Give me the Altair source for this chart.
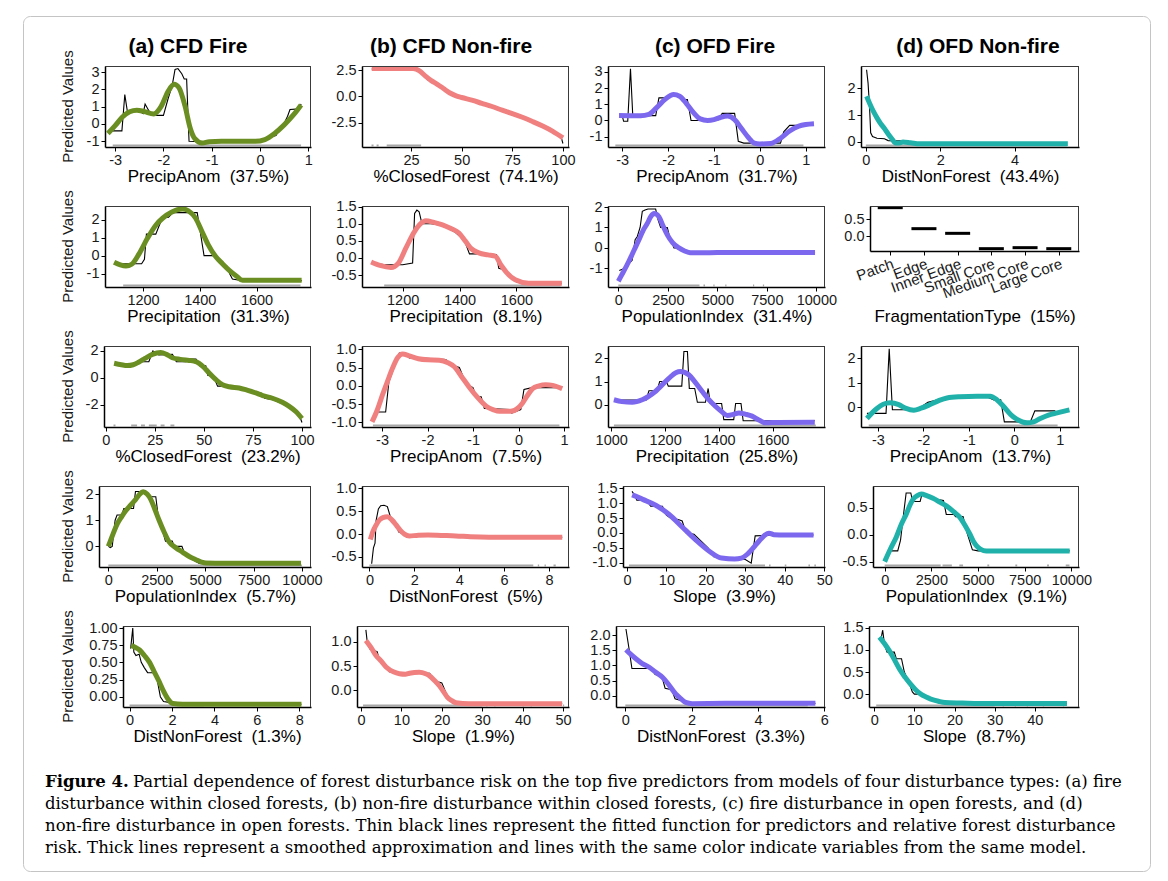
import altair as alt
import pandas as pd

FONT = "Liberation Sans"
SERIF = "DejaVu Serif"
GREEN = "#6B8E23"
SALMON = "#F08080"
PURPLE = "#7B68EE"
TEAL = "#20B2AA"

# ---------------- data ----------------
# Row 1
P11_fit = [(-3.12,-0.4),(-2.86,-0.4),(-2.8,1.7),(-2.74,0.6),(-2.65,0.75),(-2.5,0.75),(-2.42,0.6),(-2.38,1.15),(-2.32,0.85),(-2.25,0.5),(-2.0,0.5),(-1.9,1.5),(-1.82,2.2),(-1.76,3.15),(-1.7,3.2),(-1.62,2.9),(-1.57,2.6),(-1.52,2.6),(-1.47,-1.0),(-1.2,-1.02),(-0.5,-1.0),(0.1,-1.0),(0.22,-0.75),(0.33,-0.67),(0.42,-0.2),(0.47,-0.13),(0.57,0.45),(0.62,0.84),(0.81,0.87),(0.85,1.15)]
P11_smooth = [(-3.15,-0.55),(-3.0,-0.1),(-2.85,0.4),(-2.7,0.7),(-2.55,0.8),(-2.4,0.72),(-2.2,0.58),(-2.05,1.0),(-1.9,1.9),(-1.78,2.3),(-1.68,2.1),(-1.55,1.0),(-1.45,-0.2),(-1.35,-0.85),(-1.2,-1.1),(-1.05,-1.02),(-0.8,-1.0),(-0.4,-1.0),(-0.1,-1.0),(0.1,-0.9),(0.3,-0.55),(0.5,-0.05),(0.7,0.55),(0.85,1.1)]
P11_rug = [(-3.05,0.85)]
P11_xdom = [-3.21, 1.055]; P11_ydom = [-1.33, 3.35]
P11_xticks = [-3,-2,-1,0,1]; P11_yticks = [-1,0,1,2,3]

P12_fit = [(5.6,2.6),(27,2.6),(30,2.3),(33,1.6),(36,1.3),(40,0.85),(42,0.5),(45,0.2),(50,-0.1),(58,-0.5),(62,-0.7),(70,-1.25),(77,-1.7),(80,-2.0),(88,-2.6),(95,-3.35),(99,-3.75),(100,-4.45)]
P12_smooth = [(5.6,2.65),(15,2.65),(26,2.64),(29,2.45),(32,1.95),(35,1.5),(38,1.15),(41,0.75),(44,0.35),(47,0.08),(50,-0.1),(55,-0.35),(60,-0.65),(65,-0.95),(70,-1.3),(75,-1.62),(80,-1.97),(85,-2.37),(90,-2.8),(95,-3.3),(100,-3.92)]
P12_rug = [(5.5,6.5),(8,9),(13,30)]
P12_xdom = [0.8, 103]; P12_ydom = [-4.78, 2.88]
P12_xticks = [25,50,75,100]; P12_yticks = [-2.5,0,2.5]

P13_fit = [(-3.07,0.3),(-3.0,0.3),(-2.97,-0.05),(-2.88,-0.05),(-2.82,3.2),(-2.77,0.3),(-2.27,0.3),(-2.2,1.4),(-2.0,1.4),(-1.95,1.6),(-1.75,1.55),(-1.68,1.3),(-1.58,1.3),(-1.5,0.0),(-0.92,0.0),(-0.82,0.44),(-0.55,0.44),(-0.47,-1.29),(-0.35,-1.4),(0.45,-1.4),(0.52,-0.7),(0.65,-0.3),(0.95,-0.3),(1.0,-0.25)]
P13_smooth = [(-3.07,0.31),(-2.8,0.3),(-2.6,0.3),(-2.42,0.38),(-2.25,0.8),(-2.05,1.35),(-1.88,1.6),(-1.75,1.5),(-1.6,1.05),(-1.45,0.5),(-1.3,0.1),(-1.14,0.0),(-1.0,0.05),(-0.85,0.2),(-0.7,0.27),(-0.55,0.05),(-0.4,-0.5),(-0.25,-1.05),(-0.12,-1.4),(0.0,-1.45),(0.24,-1.42),(0.45,-1.1),(0.65,-0.65),(0.85,-0.35),(1.0,-0.25),(1.18,-0.2)]
P13_rug = [(-3.15,0.95)]
P13_xdom = [-3.31, 1.42]; P13_ydom = [-1.64, 3.37]
P13_xticks = [-3,-2,-1,0,1]; P13_yticks = [-1,0,1,2,3]

P14_fit = [(0.02,2.7),(0.06,2.2),(0.1,1.3),(0.13,0.34),(0.18,0.2),(0.3,0.14),(0.5,0.12),(0.6,0.05),(1.0,0.04),(1.2,-0.05),(1.5,-0.07),(5.4,-0.07)]
P14_smooth = [(0.02,1.71),(0.1,1.45),(0.2,1.15),(0.3,0.9),(0.4,0.68),(0.5,0.5),(0.6,0.3),(0.7,0.12),(0.8,-0.04),(0.9,-0.04),(1.0,0.0),(1.2,-0.03),(1.45,-0.07),(2.0,-0.07),(3.0,-0.07),(4.0,-0.07),(5.43,-0.07)]
P14_rug = [(0.0,5.4)]
P14_xdom = [-0.13, 5.73]; P14_ydom = [-0.19, 2.84]
P14_xticks = [0,2,4]; P14_yticks = [0,1,2]

# Row 2
P21_fit = [(1115,-0.45),(1195,-0.45),(1205,-0.2),(1212,1.2),(1245,1.2),(1255,1.6),(1268,2.1),(1290,2.15),(1305,2.4),(1391,2.4),(1400,1.5),(1415,0.0),(1456,0.0),(1470,-0.3),(1482,-0.5),(1497,-0.6),(1505,-1.0),(1515,-1.3),(1550,-1.4),(1760,-1.4)]
P21_smooth = [(1098,-0.37),(1120,-0.52),(1140,-0.58),(1160,-0.48),(1186,0.1),(1215,0.95),(1245,1.7),(1270,2.1),(1300,2.42),(1339,2.6),(1360,2.5),(1385,2.1),(1409,1.3),(1430,0.6),(1456,-0.05),(1480,-0.45),(1504,-0.82),(1530,-1.15),(1551,-1.38),(1580,-1.38),(1650,-1.38),(1759,-1.38)]
P21_rug = [(1130,1755)]
P21_xdom = [1066, 1792]; P21_ydom = [-1.75, 2.77]
P21_xticks = [1200,1400,1600]; P21_yticks = [-1,0,1,2]

P22_fit = [(1089,-0.15),(1140,-0.2),(1200,-0.2),(1235,-0.15),(1242,1.3),(1250,1.4),(1258,1.35),(1268,1.0),(1300,1.0),(1340,0.95),(1385,0.75),(1405,0.6),(1420,0.45),(1435,0.12),(1470,0.12),(1530,0.1),(1538,-0.3),(1560,-0.35),(1600,-0.7),(1760,-0.74)]
P22_smooth = [(1089,-0.12),(1120,-0.22),(1159,-0.28),(1185,-0.15),(1212,0.3),(1240,0.75),(1260,0.98),(1282,1.09),(1310,1.04),(1340,0.97),(1370,0.86),(1398,0.73),(1420,0.5),(1440,0.28),(1468,0.15),(1500,0.09),(1526,0.05),(1545,-0.2),(1565,-0.42),(1596,-0.64),(1643,-0.74),(1760,-0.74)]
P22_rug = [(1135,1755)]
P22_xdom = [1057, 1785]; P22_ydom = [-0.85, 1.52]
P22_xticks = [1200,1400,1600]; P22_yticks = [-0.5,0,0.5,1.0,1.5]

P23_fit = [(50,-1.1),(300,-1.0),(450,-0.85),(700,-0.6),(850,0.4),(960,0.56),(1100,1.0),(1212,1.79),(1350,1.85),(1500,1.9),(1886,1.9),(2000,1.4),(2138,1.0),(2475,1.0),(2600,0.5),(2811,0.0),(3064,0.0),(3300,-0.18),(4000,-0.22),(9933,-0.22)]
P23_smooth = [(0,-1.63),(270,-1.15),(540,-0.64),(800,-0.1),(1044,0.4),(1250,0.85),(1465,1.2),(1650,1.55),(1801,1.68),(1930,1.65),(2054,1.52),(2250,1.1),(2475,0.64),(2750,0.25),(3064,0.0),(3350,-0.15),(3653,-0.24),(4242,-0.24),(5000,-0.22),(9933,-0.22)]
P23_rug = [(0,4100),(4300,4380),(4800,4860),(5400,5460),(6800,6860),(7300,7360)]
P23_xdom = [-520, 10436]; P23_ydom = [-1.91, 2.05]
P23_xticks = [0,2500,5000,7500,10000]; P23_yticks = [-1,0,1,2]

P24_cats = ["Patch", "Edge", "Inner Edge", "Small Core", "Medium Core", "Large Core"]
P24_vals = [0.85, 0.22, 0.08, -0.38, -0.35, -0.38]
P24_ydom = [-0.45, 0.9]; P24_yticks = [0.0, 0.5]

# Row 3
P31_fit = [(4.3,1.0),(14,1.0),(16,1.2),(22,1.2),(24,2.0),(26,1.9),(27,1.7),(34,1.75),(36,1.2),(41,1.2),(42,1.4),(46,1.4),(48,0.9),(51,0.9),(52,0.2),(55,0.1),(57,-0.6),(64,-0.6),(66,-0.8),(71,-0.8),(74,-1.0),(79,-1.1),(81,-1.5),(85,-1.6),(90,-1.9),(95,-2.3),(98,-2.5),(100,-3.3)]
P31_smooth = [(4.3,1.09),(8,0.98),(11,0.92),(14,0.98),(17,1.19),(20,1.45),(23.8,1.75),(28,1.88),(31,1.75),(34,1.5),(38,1.38),(42.5,1.3),(45,1.25),(47.6,1.09),(50,0.8),(52.7,0.37),(56,-0.1),(59.5,-0.5),(63,-0.65),(68,-0.74),(72,-0.9),(76.5,-1.11),(80,-1.3),(85,-1.5),(90,-1.8),(93.5,-2.1),(97,-2.5),(100,-3.0)]
P31_rug = [(4,5),(13,16),(18,20),(22,26),(28,30),(33,35)]
P31_xdom = [-0.85, 104.6]; P31_ydom = [-3.63, 2.37]
P31_xticks = [0,25,50,75,100]; P31_yticks = [-2,0,2]

P32_fit = [(-3.15,-0.72),(-2.92,-0.72),(-2.85,0.1),(-2.62,0.9),(-2.48,0.9),(-2.4,0.76),(-2.1,0.76),(-1.6,0.72),(-1.45,0.56),(-1.3,0.5),(-1.15,0.05),(-1.0,-0.05),(-0.93,-0.3),(-0.82,-0.3),(-0.75,-0.62),(-0.2,-0.65),(-0.15,-0.75),(0.05,-0.65),(0.12,-0.1),(0.3,-0.05),(0.85,-0.05)]
P32_smooth = [(-3.22,-0.99),(-3.1,-0.65),(-2.99,-0.25),(-2.88,0.12),(-2.77,0.48),(-2.65,0.78),(-2.55,0.87),(-2.4,0.82),(-2.2,0.74),(-2.0,0.71),(-1.74,0.7),(-1.55,0.63),(-1.41,0.52),(-1.25,0.25),(-1.07,-0.06),(-0.9,-0.32),(-0.71,-0.56),(-0.55,-0.66),(-0.42,-0.7),(-0.17,-0.7),(0.0,-0.6),(0.09,-0.47),(0.2,-0.26),(0.31,-0.08),(0.45,0.0),(0.6,0.03),(0.75,0.01),(0.96,-0.08)]
P32_rug = [(-3.2,0.9)]
P32_xdom = [-3.44, 1.11]; P32_ydom = [-1.13, 1.09]
P32_xticks = [-3,-2,-1,0,1]; P32_yticks = [-1.0,-0.5,0,0.5,1.0]

P33_fit = [(1010,0.2),(1130,0.2),(1140,0.6),(1170,0.6),(1180,1.0),(1205,1.0),(1212,0.8),(1262,0.8),(1270,2.3),(1283,2.3),(1290,0.7),(1310,0.7),(1320,0.1),(1350,0.1),(1360,0.7),(1368,0.05),(1410,0.05),(1418,-0.65),(1455,-0.65),(1462,0.05),(1482,0.05),(1490,-0.7),(1756,-0.7)]
P33_smooth = [(1010,0.21),(1040,0.13),(1078,0.1),(1115,0.21),(1164,0.57),(1214,1.14),(1240,1.38),(1257,1.43),(1288,1.29),(1310,1.0),(1338,0.57),(1360,0.25),(1387,-0.07),(1410,-0.3),(1431,-0.47),(1455,-0.42),(1474,-0.36),(1500,-0.42),(1523,-0.5),(1550,-0.68),(1573,-0.79),(1620,-0.77),(1756,-0.76)]
P33_rug = [(1010,1760)]
P33_xdom = [988, 1794]; P33_ydom = [-0.97, 2.54]
P33_xticks = [1000,1200,1400,1600]; P33_yticks = [0,1,2]

P34_fit = [(-3.24,-0.25),(-2.82,-0.25),(-2.75,2.4),(-2.68,-0.1),(-2.3,-0.1),(-2.1,-0.05),(-1.9,0.2),(-1.6,0.35),(-0.6,0.42),(-0.45,0.3),(-0.3,0.3),(-0.22,-0.6),(0.35,-0.6),(0.45,-0.15),(0.7,-0.15),(0.9,-0.15)]
P34_smooth = [(-3.24,-0.46),(-3.12,-0.22),(-3.02,-0.05),(-2.88,0.12),(-2.73,0.18),(-2.54,0.11),(-2.38,-0.05),(-2.21,-0.12),(-2.05,-0.04),(-1.85,0.11),(-1.65,0.28),(-1.48,0.38),(-1.2,0.43),(-0.82,0.45),(-0.53,0.45),(-0.38,0.3),(-0.24,0.04),(-0.08,-0.3),(0.06,-0.5),(0.28,-0.64),(0.42,-0.6),(0.57,-0.46),(0.75,-0.32),(0.94,-0.23),(1.21,-0.11)]
P34_rug = [(-3.2,0.95)]
P34_xdom = [-3.37, 1.42]; P34_ydom = [-0.81, 2.51]
P34_xticks = [-3,-2,-1,0,1]; P34_yticks = [0,1,2]

# Row 4
P41_fit = [(0,0.0),(100,-0.05),(200,0.0),(350,1.0),(450,1.2),(700,1.2),(800,1.45),(1300,1.45),(1400,2.1),(1950,2.1),(2100,1.9),(2450,1.9),(2600,1.0),(2800,0.6),(2950,0.2),(3300,0.2),(3400,0.0),(3800,0.0),(3950,-0.3),(4200,-0.45),(4700,-0.65),(9948,-0.65)]
P41_smooth = [(0,0.0),(230,0.45),(466,0.87),(700,1.15),(897,1.36),(1150,1.58),(1414,1.8),(1600,1.98),(1793,2.09),(2000,2.0),(2190,1.8),(2400,1.42),(2621,1.0),(2880,0.55),(3138,0.17),(3480,-0.05),(3828,-0.22),(4200,-0.4),(4517,-0.51),(4800,-0.6),(5034,-0.64),(6000,-0.65),(9948,-0.65)]
P41_rug = [(0,10000)]
P41_xdom = [-483, 10466]; P41_ydom = [-0.79, 2.31]
P41_xticks = [0,2500,5000,7500,10000]; P41_yticks = [0,1,2]

P42_fit = [(0.1,-0.65),(0.18,-0.3),(0.25,-0.2),(0.3,0.3),(0.4,0.55),(0.5,0.62),(0.65,0.63),(0.8,0.6),(0.92,0.4),(1.05,0.3),(1.2,0.22),(1.3,0.05),(1.5,0.0),(1.8,-0.03),(2.5,-0.02),(4.0,-0.05),(8.59,-0.07)]
P42_smooth = [(0.04,-0.12),(0.15,0.05),(0.3,0.2),(0.45,0.31),(0.6,0.36),(0.81,0.38),(1.0,0.31),(1.19,0.2),(1.38,0.08),(1.56,0.0),(1.78,-0.04),(2.1,-0.03),(2.6,-0.02),(3.2,-0.03),(3.85,-0.04),(4.5,-0.06),(5.33,-0.07),(8.59,-0.07)]
P42_rug = [(0.0,7.3),(7.5,7.56),(7.8,7.86),(8.2,8.3)]
P42_xdom = [-0.33, 8.89]; P42_ydom = [-0.72, 1.05]
P42_xticks = [0,2,4,6,8]; P42_yticks = [-0.5,0,0.5,1.0]

P43_fit = [(1.3,1.4),(2,1.25),(2.5,1.1),(5,1.1),(6,0.9),(9,0.9),(10,0.6),(11,0.5),(13,0.45),(14,0.4),(15,0.0),(17,-0.05),(19,-0.3),(20.5,-0.5),(22,-0.8),(28,-0.85),(30,-0.9),(31.5,-1.02),(32.5,-0.1),(37,-0.08),(47.3,-0.07)]
P43_smooth = [(1.33,1.28),(4,1.13),(7.3,0.93),(10.7,0.62),(14,0.2),(17.3,-0.22),(20.7,-0.6),(24,-0.85),(27.3,-0.88),(29,-0.85),(30.5,-0.72),(31.5,-0.58),(33,-0.35),(34,-0.2),(35,-0.07),(36,-0.01),(37.3,-0.06),(40,-0.07),(47.3,-0.07)]
P43_rug = [(0.5,35),(36,36.4),(40,40.4),(46,46.4),(47.5,47.9)]
P43_xdom = [-1.0, 50.2]; P43_ydom = [-1.15, 1.58]
P43_xticks = [0,10,20,30,40,50]; P43_yticks = [-1.0,-0.5,0,0.5,1.0,1.5]

P44_fit = [(200,-0.3),(700,-0.3),(850,-0.1),(1000,0.35),(1150,0.78),(1400,0.78),(1500,0.62),(1900,0.62),(2000,0.76),(2400,0.72),(2800,0.66),(3150,0.64),(3300,0.38),(3700,0.38),(3800,0.34),(4200,0.34),(4400,0.05),(4700,-0.28),(5000,-0.3),(9911,-0.3)]
P44_smooth = [(0,-0.5),(300,-0.27),(625,-0.04),(900,0.2),(1161,0.39),(1350,0.55),(1518,0.66),(1750,0.73),(1964,0.76),(2250,0.73),(2589,0.68),(3000,0.6),(3304,0.54),(3700,0.43),(4018,0.33),(4300,0.18),(4554,0.02),(4750,-0.12),(4911,-0.2),(5150,-0.27),(5446,-0.3),(6500,-0.3),(9911,-0.3)]
P44_rug = [(0,3000),(3100,3600),(4000,4200),(5500,5600),(7000,7100),(8700,8800),(9700,9900)]
P44_xdom = [-625, 10410]; P44_ydom = [-0.6, 0.91]
P44_xticks = [0,2500,5000,7500,10000]; P44_yticks = [-0.5,0,0.5]

# Row 5
P51_fit = [(0.05,0.7),(0.1,0.85),(0.15,1.0),(0.2,0.65),(0.3,0.6),(0.45,0.62),(0.55,0.5),(0.7,0.42),(0.85,0.35),(1.15,0.35),(1.3,0.25),(1.45,0.0),(1.6,-0.07),(2.0,-0.09),(2.5,-0.11),(8.1,-0.11)]
P51_smooth = [(0.08,0.75),(0.25,0.72),(0.47,0.68),(0.7,0.6),(0.94,0.5),(1.15,0.37),(1.41,0.21),(1.6,0.08),(1.8,-0.03),(2.04,-0.1),(2.5,-0.11),(4.0,-0.11),(8.1,-0.11)]
P51_rug = [(0.0,3.5)]
P51_xdom = [-0.31, 8.55]; P51_ydom = [-0.15, 1.03]
P51_xticks = [0,2,4,6,8]; P51_yticks = [0,0.25,0.5,0.75,1.0]

P52_fit = [(1.2,1.25),(1.6,0.95),(2.2,0.85),(4,0.8),(4.6,0.6),(6,0.55),(7,0.38),(10,0.35),(17,0.35),(18,0.2),(20,0.15),(21,-0.05),(22,-0.2),(23.5,-0.28),(49.8,-0.28)]
P52_smooth = [(1.2,1.03),(2.5,0.88),(3.7,0.72),(5,0.6),(6.2,0.48),(8,0.38),(9.5,0.34),(11,0.33),(12,0.35),(14.4,0.37),(16,0.34),(16.9,0.3),(18.2,0.2),(19.4,0.09),(20.5,-0.04),(21.4,-0.15),(22.5,-0.22),(23.5,-0.26),(26.8,-0.28),(35,-0.28),(49.8,-0.28)]
P52_rug = [(0.5,30),(31,31.3),(33,33.3),(40,40.3),(42,42.3),(50,50.3)]
P52_xdom = [-1.0, 51.5]; P52_ydom = [-0.35, 1.33]
P52_xticks = [0,10,20,30,40,50]; P52_yticks = [0,0.5,1.0]

P53_fit = [(0.02,2.2),(0.12,1.5),(0.2,0.9),(0.8,0.9),(0.9,0.7),(1.1,0.65),(1.2,0.25),(1.4,0.2),(1.5,-0.1),(1.8,-0.2),(2.0,-0.25),(5.73,-0.25)]
P53_smooth = [(0.02,1.52),(0.15,1.38),(0.32,1.22),(0.5,1.07),(0.72,0.94),(0.9,0.79),(1.12,0.61),(1.3,0.38),(1.52,0.06),(1.68,-0.1),(1.82,-0.22),(2.02,-0.26),(3.0,-0.25),(5.73,-0.25)]
P53_rug = [(0.0,5.5)]
P53_xdom = [-0.28, 6.02]; P53_ydom = [-0.37, 2.3]
P53_xticks = [0,2,4,6]; P53_yticks = [0,0.5,1.0,1.5,2.0]

P54_fit = [(1.3,1.25),(1.8,1.3),(2.1,1.45),(2.6,1.1),(3.2,0.95),(5,0.95),(5.5,0.8),(6.8,0.8),(7.5,0.5),(8.5,0.3),(9.5,0.05),(10,0.0),(12,0.0),(13,-0.05),(14,-0.1),(16,-0.18),(20,-0.2),(48,-0.21)]
P54_smooth = [(1.3,1.29),(2.5,1.15),(3.9,0.96),(5.2,0.75),(6.4,0.55),(7.7,0.38),(9,0.23),(10.3,0.1),(11.6,0.0),(12.8,-0.06),(14.1,-0.11),(16,-0.16),(17.6,-0.19),(21.9,-0.2),(26.1,-0.21),(35,-0.21),(48,-0.21)]
P54_rug = [(0.5,30),(32,32.3),(35,35.3),(38,38.3),(42,42.3),(47,47.3)]
P54_xdom = [-1.3, 51]; P54_ydom = [-0.29, 1.54]
P54_xticks = [0,10,20,30,40]; P54_yticks = [0,0.5,1.0,1.5]

COL_TITLES = ["(a) CFD Fire", "(b) CFD Non-fire", "(c) OFD Fire", "(d) OFD Non-fire"]
COL_COLORS = [GREEN, SALMON, PURPLE, TEAL]
CAPTION_BOLD = "Figure 4."
CAPTION_LINES = [
    "Partial dependence of forest disturbance risk on the top five predictors from models of four disturbance types: (a) fire",
    "disturbance within closed forests, (b) non-fire disturbance within closed forests, (c) fire disturbance in open forests, and (d)",
    "non-fire disturbance in open forests. Thin black lines represent the fitted function for predictors and relative forest disturbance",
    "risk. Thick lines represent a smoothed approximation and lines with the same color indicate variables from the same model.",
]

# ---------------- layout (pixels, page coordinates) ----------------
COL_X = [98, 356, 607, 860]            # left edge of each column cell
COL_RIGHT = [310, 568, 824, 1078]      # right edge of the plot boxes
PLOT_LEFT = [[104, 361, 607, 860],     # left edge of each plot box
             [104, 361, 607, 869],
             [103, 361, 607, 860],
             [98, 361, 622, 872],
             [122, 356, 615, 868]]
ROW_TOP0 = 65
ROW_SPACING = 59
PLOT_H = 81
FRAG_H = 45
TITLE_CENTER = [187, 450, 714, 977]
BOX = (22, 15, 1150, 871)              # outer figure box: left, top, right, bottom
LEFT_PAD = BOX[0]
TOP_PAD = BOX[1]
CAP_FS = 16.5
CAP_X = 44 - COL_X[0]
CAP_Y0 = 161
CAP_DY = 22
CAP_BOLD_W = 88
MINUS = "replace(datum.label, '\u2212', '-')"
BORDER = "#3a3a3a"


def cell_width(c):
    return (COL_X[c + 1] if c < 3 else COL_RIGHT[3]) - COL_X[c]


def txt(s, **kw):
    return alt.Chart(pd.DataFrame({"t": [s]})).mark_text(**kw)


def frame(d, r_, h):
    one = pd.DataFrame({"k": [0]})
    top = alt.Chart(one).mark_rule(color=BORDER, strokeWidth=1).encode(
        x=alt.value(d), x2=alt.value(r_), y=alt.value(0.5))
    right = alt.Chart(one).mark_rule(color=BORDER, strokeWidth=1).encode(
        x=alt.value(r_ - 0.5), y=alt.value(0), y2=alt.value(h))
    return [top, right]


def decorations(r, c):
    layers = []
    if r == 0 and c == 0:
        layers.append(alt.Chart(pd.DataFrame({"k": [0]})).mark_rect(
            fillOpacity=0, stroke="#c4c4c4", strokeWidth=1, cornerRadius=7).encode(
            x=alt.value(BOX[0] - COL_X[0] + 0.5), x2=alt.value(BOX[2] - COL_X[0] - 0.5),
            y=alt.value(BOX[1] - ROW_TOP0 + 0.5), y2=alt.value(BOX[3] - ROW_TOP0 - 0.5)))
    if r == 0:
        layers.append(txt(COL_TITLES[c], font=FONT, fontSize=21, fontWeight="bold", align="center",
                          baseline="alphabetic", color="black").encode(
            text="t:N", x=alt.value(TITLE_CENTER[c] - COL_X[c]), y=alt.value(-13)))
    if c == 0:
        layers.append(txt("Predicted Values", font=FONT, fontSize=15, angle=270, align="center",
                          baseline="middle", color="#1a1a1a").encode(
            text="t:N", x=alt.value(67 - COL_X[0]), y=alt.value(PLOT_H / 2)))
    if r == 4 and c == 0:
        layers.append(txt(CAPTION_BOLD, font=SERIF, fontSize=CAP_FS, fontWeight="bold", align="left",
                          baseline="alphabetic", color="black").encode(
            text="t:N", x=alt.value(CAP_X), y=alt.value(CAP_Y0)))
        for i, line in enumerate(CAPTION_LINES):
            layers.append(txt(line, font=SERIF, fontSize=CAP_FS, align="left", baseline="alphabetic",
                              color="black").encode(
                text="t:N", x=alt.value(CAP_X + (CAP_BOLD_W if i == 0 else 0)),
                y=alt.value(CAP_Y0 + CAP_DY * i)))
    return layers


def curve_panel(r, c, fit, smooth, rug, xdom, ydom, xticks, yticks, yfmt, xtitle):
    d = PLOT_LEFT[r][c] - COL_X[c]
    rr = COL_RIGHT[c] - COL_X[c]
    fit_df = pd.DataFrame(fit, columns=["x", "y"])
    sm_df = pd.DataFrame(smooth, columns=["x", "y"])
    rug_df = pd.DataFrame(rug, columns=["lo", "hi"])
    xs = alt.Scale(domain=xdom, nice=False, zero=False, range=[d, rr])
    ys = alt.Scale(domain=ydom, nice=False, zero=False)
    xax = alt.Axis(values=xticks, format="d", title=xtitle, labelExpr=MINUS,
                   minExtent=20, maxExtent=20, labelFlush=False, labelOverlap=False)
    yax = alt.Axis(values=yticks, format=yfmt, title=None, labelExpr=MINUS, labelOverlap=False,
                   offset=-d)
    X = alt.X("x:Q", scale=xs, axis=xax)
    Y = alt.Y("y:Q", scale=ys, axis=yax)
    rug_l = alt.Chart(rug_df).mark_rect(color="#a8a8a8", clip=True).encode(
        x=alt.X("lo:Q", scale=xs, axis=xax), x2="hi:Q",
        y=alt.value(PLOT_H - 2.5), y2=alt.value(PLOT_H))
    fit_l = alt.Chart(fit_df).mark_line(color="black", strokeWidth=1.1, clip=True).encode(x=X, y=Y)
    sm_l = alt.Chart(sm_df).mark_line(color=COL_COLORS[c], strokeWidth=5, clip=True,
                                      interpolate="monotone", strokeJoin="round").encode(x=X, y=Y)
    return alt.layer(rug_l, fit_l, sm_l, *frame(d, rr, PLOT_H), *decorations(r, c)).properties(
        width=cell_width(c), height=PLOT_H)


def frag_panel(r, c):
    d = PLOT_LEFT[r][c] - COL_X[c]
    rr = COL_RIGHT[c] - COL_X[c]
    df = pd.DataFrame({"cat": P24_cats, "v": P24_vals})
    xax = alt.Axis(title="FragmentationType\u00a0 (15%)", labelAngle=340, labelAlign="right",
                   labelBaseline="top", minExtent=56, maxExtent=56, labelOverlap=False,
                   labelPadding=1, labelFontSize=15)
    yax = alt.Axis(values=P24_yticks, format=".1f", title=None, labelExpr=MINUS, labelOverlap=False,
                   offset=-d)
    ticks = alt.Chart(df).mark_tick(color="black", thickness=3, size=25, opacity=1).encode(
        x=alt.X("cat:N", sort=P24_cats, scale=alt.Scale(type="point", padding=0.6, range=[d, rr]),
                axis=xax),
        y=alt.Y("v:Q", scale=alt.Scale(domain=P24_ydom, nice=False, zero=False), axis=yax),
    )
    return alt.layer(ticks, *frame(d, rr, FRAG_H), *decorations(r, c)).properties(
        width=cell_width(c), height=FRAG_H)


S = "\u00a0 "
panels = [
    curve_panel(0, 0, P11_fit, P11_smooth, P11_rug, P11_xdom, P11_ydom, P11_xticks, P11_yticks, "d", "PrecipAnom" + S + "(37.5%)"),
    curve_panel(0, 1, P12_fit, P12_smooth, P12_rug, P12_xdom, P12_ydom, P12_xticks, P12_yticks, ".1f", "%ClosedForest" + S + "(74.1%)"),
    curve_panel(0, 2, P13_fit, P13_smooth, P13_rug, P13_xdom, P13_ydom, P13_xticks, P13_yticks, "d", "PrecipAnom" + S + "(31.7%)"),
    curve_panel(0, 3, P14_fit, P14_smooth, P14_rug, P14_xdom, P14_ydom, P14_xticks, P14_yticks, "d", "DistNonForest" + S + "(43.4%)"),
    curve_panel(1, 0, P21_fit, P21_smooth, P21_rug, P21_xdom, P21_ydom, P21_xticks, P21_yticks, "d", "Precipitation" + S + "(31.3%)"),
    curve_panel(1, 1, P22_fit, P22_smooth, P22_rug, P22_xdom, P22_ydom, P22_xticks, P22_yticks, ".1f", "Precipitation" + S + "(8.1%)"),
    curve_panel(1, 2, P23_fit, P23_smooth, P23_rug, P23_xdom, P23_ydom, P23_xticks, P23_yticks, "d", "PopulationIndex" + S + "(31.4%)"),
    frag_panel(1, 3),
    curve_panel(2, 0, P31_fit, P31_smooth, P31_rug, P31_xdom, P31_ydom, P31_xticks, P31_yticks, "d", "%ClosedForest" + S + "(23.2%)"),
    curve_panel(2, 1, P32_fit, P32_smooth, P32_rug, P32_xdom, P32_ydom, P32_xticks, P32_yticks, ".1f", "PrecipAnom" + S + "(7.5%)"),
    curve_panel(2, 2, P33_fit, P33_smooth, P33_rug, P33_xdom, P33_ydom, P33_xticks, P33_yticks, "d", "Precipitation" + S + "(25.8%)"),
    curve_panel(2, 3, P34_fit, P34_smooth, P34_rug, P34_xdom, P34_ydom, P34_xticks, P34_yticks, "d", "PrecipAnom" + S + "(13.7%)"),
    curve_panel(3, 0, P41_fit, P41_smooth, P41_rug, P41_xdom, P41_ydom, P41_xticks, P41_yticks, "d", "PopulationIndex" + S + "(5.7%)"),
    curve_panel(3, 1, P42_fit, P42_smooth, P42_rug, P42_xdom, P42_ydom, P42_xticks, P42_yticks, ".1f", "DistNonForest" + S + "(5%)"),
    curve_panel(3, 2, P43_fit, P43_smooth, P43_rug, P43_xdom, P43_ydom, P43_xticks, P43_yticks, ".1f", "Slope" + S + "(3.9%)"),
    curve_panel(3, 3, P44_fit, P44_smooth, P44_rug, P44_xdom, P44_ydom, P44_xticks, P44_yticks, ".1f", "PopulationIndex" + S + "(9.1%)"),
    curve_panel(4, 0, P51_fit, P51_smooth, P51_rug, P51_xdom, P51_ydom, P51_xticks, P51_yticks, ".2f", "DistNonForest" + S + "(1.3%)"),
    curve_panel(4, 1, P52_fit, P52_smooth, P52_rug, P52_xdom, P52_ydom, P52_xticks, P52_yticks, ".1f", "Slope" + S + "(1.9%)"),
    curve_panel(4, 2, P53_fit, P53_smooth, P53_rug, P53_xdom, P53_ydom, P53_xticks, P53_yticks, ".1f", "DistNonForest" + S + "(3.3%)"),
    curve_panel(4, 3, P54_fit, P54_smooth, P54_rug, P54_xdom, P54_ydom, P54_xticks, P54_yticks, ".1f", "Slope" + S + "(8.7%)"),
]

chart = alt.ConcatChart(
    concat=panels, columns=4, spacing={"row": ROW_SPACING, "column": 0},
    align="each", bounds="flush"
).properties(
    padding={"left": LEFT_PAD, "top": TOP_PAD, "right": 10, "bottom": 6}, background="white"
).configure_view(stroke="transparent").configure_axis(
    labelFont=FONT, labelFontSize=14.5, labelColor="#1a1a1a", titleFont=FONT, titleFontSize=17,
    titleFontWeight="normal", titleColor="black", tickColor="black", tickSize=4, tickWidth=1,
    domainColor="black", domainWidth=1.5, grid=False, labelPadding=2, titlePadding=1
)

chart.save("out.html", embed_options={"renderer": "svg", "actions": False})
